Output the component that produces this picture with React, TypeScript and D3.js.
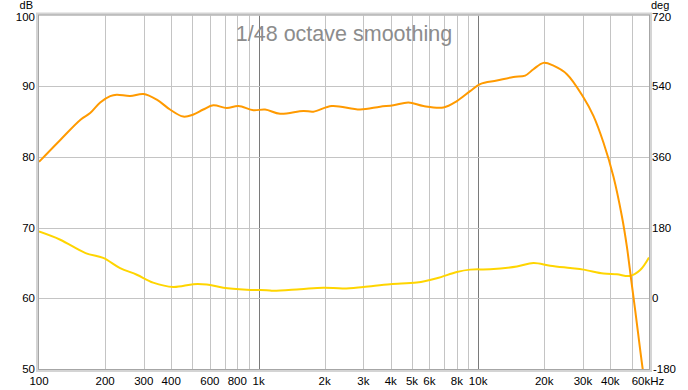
import React, { useEffect, useRef } from 'react';
import * as d3 from 'd3';

// magnitude response (dB, left axis)
const magFreq = [100, 125, 155, 171, 190, 211, 226, 260, 299, 344, 395, 454, 505, 560, 622, 716, 809, 947, 1071, 1253, 1600, 1777, 2156, 2900, 3578, 4113, 4814, 5633, 6950, 8000, 9190, 10210, 12170, 14480, 16370, 17860, 19840, 22030, 25360, 30200, 33500, 37240, 41340, 45150, 47580, 49780, 51920, 56160, 57500];
const magDb = [79.3, 82.4, 85.3, 86.2, 87.7, 88.6, 88.8, 88.6, 88.9, 88.1, 86.7, 85.7, 86.0, 86.7, 87.3, 86.9, 87.2, 86.6, 86.7, 86.1, 86.5, 86.4, 87.2, 86.7, 87.1, 87.3, 87.7, 87.2, 87.0, 87.9, 89.3, 90.3, 90.8, 91.3, 91.5, 92.4, 93.3, 92.9, 91.7, 88.4, 85.8, 82.0, 77.2, 71.6, 67.3, 62.6, 58.3, 50.0, 48.0];

// phase response (deg, right axis)
const phaseFreq = [100, 125, 163, 196, 234, 279, 331, 409, 505, 581, 691, 884, 1128, 1165, 1545, 1974, 2434, 3002, 3972, 5256, 6483, 8000, 9190, 11340, 15010, 17860, 21280, 26250, 30200, 37240, 42850, 49260, 54700, 60000];
const phaseDeg = [170, 149, 115, 103, 77, 60, 40, 29, 36, 35, 27, 22, 20, 19, 23, 27, 25, 29, 36, 40, 51, 67, 73, 74, 81, 90, 83, 77, 73, 63, 61, 57, 72, 104];

const dbTicks = [50, 60, 70, 80, 90, 100];
const degTicks = [-180, 0, 180, 360, 540, 720];
const freqLabels: [number, string][] = [
  [100, '100'], [200, '200'], [300, '300'], [400, '400'], [600, '600'], [800, '800'],
  [1000, '1k'], [2000, '2k'], [3000, '3k'], [4000, '4k'], [5000, '5k'], [6000, '6k'],
  [8000, '8k'], [10000, '10k'], [20000, '20k'], [30000, '30k'], [40000, '40k'], [60000, '60kHz'],
];
const freqGrid = [200, 300, 400, 500, 600, 700, 800, 900, 1000, 2000, 3000, 4000, 5000, 6000, 7000, 8000, 9000, 10000, 20000, 30000, 40000, 50000];

const W = 688;
const H = 390;

const App: React.FC = () => {
  const svgRef = useRef<SVGSVGElement>(null);

  useEffect(() => {
    if (!svgRef.current) return;
    const svg = d3.select(svgRef.current);
    svg.selectAll('*').remove();

    const left = 39, right = 649, top = 15.5, bottom = 369;
    const font = 'Liberation Sans, Arial, sans-serif';
    const fs = '11.5px';

    const x = d3.scaleLog().domain([100, 60000]).range([left, right]);
    const yDb = d3.scaleLinear().domain([50, 100]).range([bottom, top]);
    const yDeg = d3.scaleLinear().domain([-180, 720]).range([bottom, top]);

    svg.append('rect').attr('width', W).attr('height', H).attr('fill', '#ffffff');

    svg.append('clipPath').attr('id', 'plotClip')
      .append('rect')
      .attr('x', left).attr('y', top)
      .attr('width', right - left).attr('height', bottom - top);

    // grid
    const grid = svg.append('g');
    freqGrid.forEach(f => {
      grid.append('line')
        .attr('x1', Math.round(x(f)) + 0.5).attr('x2', Math.round(x(f)) + 0.5)
        .attr('y1', top).attr('y2', bottom)
        .attr('stroke', f === 1000 || f === 10000 ? '#7a7a7a' : '#c4c4c4')
        .attr('stroke-width', 1);
    });
    dbTicks.slice(1, -1).forEach(v => {
      grid.append('line')
        .attr('x1', left).attr('x2', right)
        .attr('y1', Math.round(yDb(v)) + 0.5).attr('y2', Math.round(yDb(v)) + 0.5)
        .attr('stroke', '#c4c4c4').attr('stroke-width', 1);
    });

    // title
    svg.append('text')
      .attr('x', 344).attr('y', 41)
      .attr('text-anchor', 'middle')
      .style('font-family', font)
      .style('font-size', '21.5px')
      .style('fill', '#8c8c8c')
      .text('1/48 octave smoothing');

    const plot = svg.append('g').attr('clip-path', 'url(#plotClip)');

    const phaseLine = d3.line<number>()
      .x((_, i) => x(phaseFreq[i]))
      .y(d => yDeg(d))
      .curve(d3.curveCatmullRom.alpha(0.5));
    plot.append('path')
      .datum(phaseDeg)
      .attr('d', phaseLine)
      .attr('fill', 'none')
      .attr('stroke', '#ffd500')
      .attr('stroke-width', 2);

    const magLine = d3.line<number>()
      .x((_, i) => x(magFreq[i]))
      .y(d => yDb(d))
      .curve(d3.curveCatmullRom.alpha(0.5));
    plot.append('path')
      .datum(magDb)
      .attr('d', magLine)
      .attr('fill', 'none')
      .attr('stroke', '#ff9a00')
      .attr('stroke-width', 2);

    // frame
    svg.append('rect')
      .attr('x', left - 1.5).attr('y', top - 1.5)
      .attr('width', right - left + 3).attr('height', bottom - top + 3)
      .attr('fill', 'none').attr('stroke', '#d4d4d4').attr('stroke-width', 3);
    svg.append('rect')
      .attr('x', left - 0.5).attr('y', top - 0.5)
      .attr('width', right - left + 1).attr('height', bottom - top + 1)
      .attr('fill', 'none').attr('stroke', '#a6a6a6').attr('stroke-width', 1);

    // top tick labels sit a touch below the frame edge, as in the original
    const labelY = (py: number) => Math.max(py, 17);

    // left axis labels
    dbTicks.forEach(v => {
      svg.append('text')
        .attr('x', 35).attr('y', labelY(yDb(v))).attr('dy', '0.36em')
        .attr('text-anchor', 'end')
        .style('font-family', font).style('font-size', fs).style('fill', '#000')
        .text(String(v));
    });
    svg.append('text')
      .attr('x', 33).attr('y', 9)
      .attr('text-anchor', 'end')
      .style('font-family', font).style('font-size', '11px').style('fill', '#000')
      .text('dB');

    // right axis labels
    degTicks.forEach(v => {
      svg.append('text')
        .attr('x', v < 0 ? 653 : 652).attr('y', labelY(yDeg(v))).attr('dy', '0.36em')
        .attr('text-anchor', 'start')
        .style('font-family', font).style('font-size', fs).style('fill', '#000')
        .text(String(v));
    });
    svg.append('text')
      .attr('x', 651).attr('y', 9)
      .attr('text-anchor', 'start')
      .style('font-family', font).style('font-size', '11px').style('fill', '#000')
      .text('deg');

    // bottom labels
    freqLabels.forEach(([f, label]) => {
      svg.append('text')
        .attr('x', f === 60000 ? x(f) - 1 : x(f)).attr('y', 385)
        .attr('text-anchor', 'middle')
        .style('font-family', font).style('font-size', fs).style('fill', '#000')
        .text(label);
    });
  }, []);

  return (
    <div style={{ position: 'absolute', left: 0, top: 0 }}>
      <svg ref={svgRef} width={W} height={H}></svg>
    </div>
  );
};

export default App;
